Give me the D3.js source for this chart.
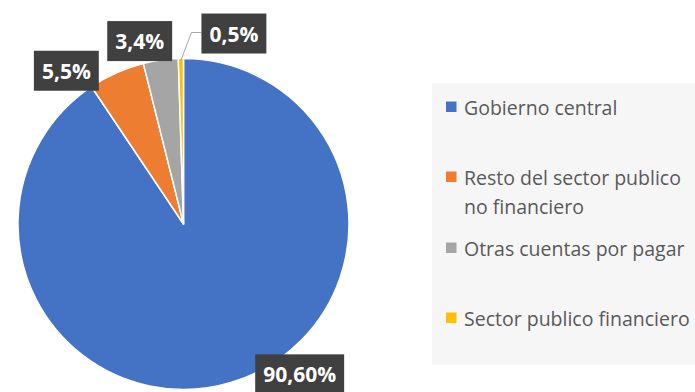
<!DOCTYPE html>
<html>
<head>
<meta charset="utf-8">
<script src="https://cdn.jsdelivr.net/npm/d3@7"></script>
<style>
  html, body { margin: 0; padding: 0; background: #ffffff; }
  svg { display: block; }
</style>
</head>
<body>
<svg id="chart" width="695" height="392"></svg>
<script>
// Composition of the debt, by creditor
const categories = ["Gobierno central", "Resto del sector publico no financiero", "Otras cuentas por pagar", "Sector publico financiero"];
const legendLines = [["Gobierno central"], ["Resto del sector publico", "no financiero"], ["Otras cuentas por pagar"], ["Sector publico financiero"]];
const values = [90.6, 5.5, 3.4, 0.5];
const valueLabels = ["90,60%", "5,5%", "3,4%", "0,5%"];
const colors = ["#4472c4", "#ed7d31", "#a5a5a5", "#ffc000"];

const svg = d3.select("#chart");
const cx = 183.5, cy = 224, radius = 165.5;

const pie = d3.pie().sort(null).value(d => d)(values);
const arc = d3.arc().innerRadius(0).outerRadius(radius);

const g = svg.append("g").attr("transform", `translate(${cx},${cy})`);

g.selectAll("path.slice")
  .data(pie)
  .join("path")
  .attr("class", "slice")
  .attr("d", arc)
  .attr("fill", (d, i) => colors[i])
  .attr("stroke", "#ffffff")
  .attr("stroke-width", 1.5)
  .attr("stroke-linejoin", "round");

// Data labels: placed relative to the point on the rim at each slice's mid-angle
const labelOffsets = [[68, -8], [-50, -2], [-21, -19], [53, -25]];

pie.forEach((d, i) => {
  const mid = (d.startAngle + d.endAngle) / 2;
  const rx = Math.sin(mid) * radius, ry = -Math.cos(mid) * radius;
  const lx = rx + labelOffsets[i][0], ly = ry + labelOffsets[i][1];
  const lg = g.append("g");
  const t = lg.append("text")
    .attr("x", lx).attr("y", ly)
    .attr("text-anchor", "middle")
    .attr("dominant-baseline", "central")
    .attr("font-family", "'Open Sans', 'Noto Sans', sans-serif")
    .attr("font-weight", "bold")
    .attr("font-size", 21)
    .attr("fill", "#ffffff")
    .text(valueLabels[i]);
  const w = t.node().getComputedTextLength() + 16;
  const h = 40;
  if (i === 3) {
    // leader line from the thin slice to its label
    g.insert("path", ":scope > g")
      .attr("d", `M${rx},${ry + 2} L${lx - w / 2 - 10},${ly - 1} L${lx - w / 2},${ly - 1}`)
      .attr("fill", "none")
      .attr("stroke", "#a6a6a6")
      .attr("stroke-width", 1);
  }
  lg.insert("rect", "text")
    .attr("x", lx - w / 2).attr("y", ly - h / 2)
    .attr("width", w).attr("height", h)
    .attr("fill", "#404040");
});

// Legend
const legend = svg.append("g");
legend.append("rect")
  .attr("x", 432).attr("y", 83)
  .attr("width", 263).attr("height", 282)
  .attr("fill", "#f6f6f6");

const itemY = [107, 177, 248, 318];
categories.forEach((c, i) => {
  legend.append("rect")
    .attr("x", 446).attr("y", itemY[i] - 5.5)
    .attr("width", 10.5).attr("height", 10.5)
    .attr("fill", colors[i]);
  const t = legend.append("text")
    .attr("x", 464).attr("y", itemY[i])
    .attr("dominant-baseline", "central")
    .attr("font-family", "'Open Sans', 'Noto Sans', sans-serif")
    .attr("font-size", 19.5)
    .attr("fill", "#595959");
  legendLines[i].forEach((line, j) => {
    t.append("tspan").attr("x", 464).attr("dy", j === 0 ? 0 : 29).text(line);
  });
});
</script>
</body>
</html>
